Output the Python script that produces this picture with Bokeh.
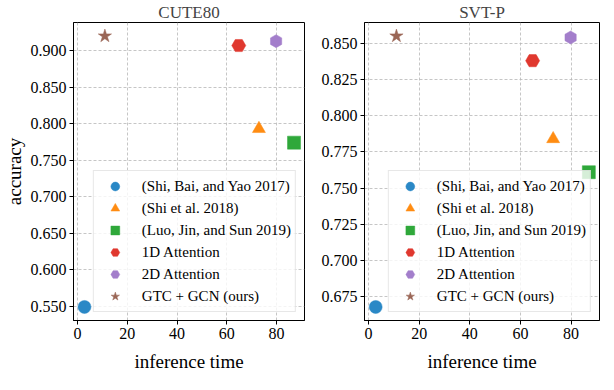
import math
from bokeh.plotting import figure
from bokeh.layouts import row
from bokeh.models import Legend, LegendItem, FixedTicker, NumeralTickFormatter, Range1d
from bokeh.embed import file_html
from bokeh.resources import INLINE

methods = ["(Shi, Bai, and Yao 2017)", "(Shi et al. 2018)", "(Luo, Jin, and Sun 2019)",
           "1D Attention", "2D Attention", "GTC + GCN (ours)"]
inference_time = [2.8, 72.9, 87.0, 64.8, 79.8, 11.0]
acc_cute80 = [0.549, 0.793, 0.774, 0.907, 0.913, 0.920]
acc_svtp = [0.668, 0.784, 0.761, 0.838, 0.854, 0.855]
x_ticks = [0, 20, 40, 60, 80]
cute_ticks = [0.550, 0.600, 0.650, 0.700, 0.750, 0.800, 0.850, 0.900]
svtp_ticks = [0.675, 0.700, 0.725, 0.750, 0.775, 0.800, 0.825, 0.850]

markers = ["circle", "triangle", "square", "hex", "hex", "star"]
angles = [0, 0, 0, 0, math.pi / 6, 0]
colors = ["#2a88c6", "#ff8c12", "#2fa83a", "#e0382f", "#a37ecb", "#9a6656"]
sizes = [13, 13, 13, 14, 13, 14]

FONT = "Liberation Serif"


def make_panel(title, acc, ticks, ylabel, left_border, right_border, fw):
    lo, hi = min(acc), max(acc)
    pad = (hi - lo) * 0.05
    xlo, xhi = min(inference_time), max(inference_time)
    xpad = (xhi - xlo) * 0.05
    p = figure(frame_width=fw, frame_height=298, output_backend="svg", toolbar_location=None,
               x_range=Range1d(xlo - xpad - 0.2, xhi + xpad), y_range=Range1d(lo - pad, hi + pad),
               min_border_left=left_border, min_border_right=right_border,
               min_border_top=4, min_border_bottom=62)
    p.title.text = title
    p.title.align = "center"
    p.title.text_font = FONT
    p.title.text_font_size = "17px"
    p.title.text_font_style = "normal"
    p.title.standoff = 1
    p.outline_line_color = "black"
    p.outline_line_width = 1
    p.outline_line_alpha = 1
    p.background_fill_color = "white"
    p.border_fill_color = "white"

    for ax in (p.xaxis[0], p.yaxis[0]):
        ax.axis_line_color = "black"
        ax.major_tick_line_color = "black"
        ax.major_tick_out = 4
        ax.major_tick_in = 0
        ax.minor_tick_line_color = None
        ax.major_label_text_font = FONT
        ax.major_label_text_font_size = "16px"
        ax.major_label_text_color = "black"
        ax.major_label_standoff = 3
        ax.axis_label_text_font = FONT
        ax.axis_label_text_font_size = "19px"
        ax.axis_label_text_font_style = "normal"
        ax.axis_label_text_color = "black"
    p.xaxis.ticker = FixedTicker(ticks=x_ticks)
    p.yaxis.ticker = FixedTicker(ticks=ticks)
    p.yaxis.formatter = NumeralTickFormatter(format="0.000")
    p.xaxis.axis_label = "inference time"
    p.xaxis.axis_label_standoff = 9
    if ylabel:
        p.yaxis.axis_label = ylabel
        p.yaxis.axis_label_standoff = 3

    p.grid.grid_line_color = "#b8b8b8"
    p.grid.grid_line_dash = "3 2"
    p.grid.grid_line_width = 0.8

    items = []
    for i, m in enumerate(methods):
        r = p.scatter(x=[inference_time[i]], y=[acc[i]], marker=markers[i], size=sizes[i],
                      angle=angles[i], fill_color=colors[i], line_color=colors[i], line_width=0.5)
        items.append(LegendItem(label=m, renderers=[r]))
    leg = Legend(items=items, location="bottom_right")
    leg.label_text_font = FONT
    leg.label_text_font_size = "15px"
    leg.label_text_color = "black"
    leg.glyph_height = 22
    leg.glyph_width = 34
    leg.label_height = 20
    leg.spacing = 0
    leg.padding = 4
    leg.label_standoff = 10
    leg.margin = 8
    leg.border_line_color = "#d0d0d0"
    leg.border_line_width = 1
    leg.background_fill_color = "white"
    leg.background_fill_alpha = 0.8
    p.add_layout(leg)
    return p


p1 = make_panel("CUTE80", acc_cute80, cute_ticks, "accuracy", 68, 13, 231)
p2 = make_panel("SVT-P", acc_svtp, svtp_ticks, None, 47, 4, 235)
layout = row(p1, p2)

open("out.html", "w").write(file_html(layout, INLINE))
